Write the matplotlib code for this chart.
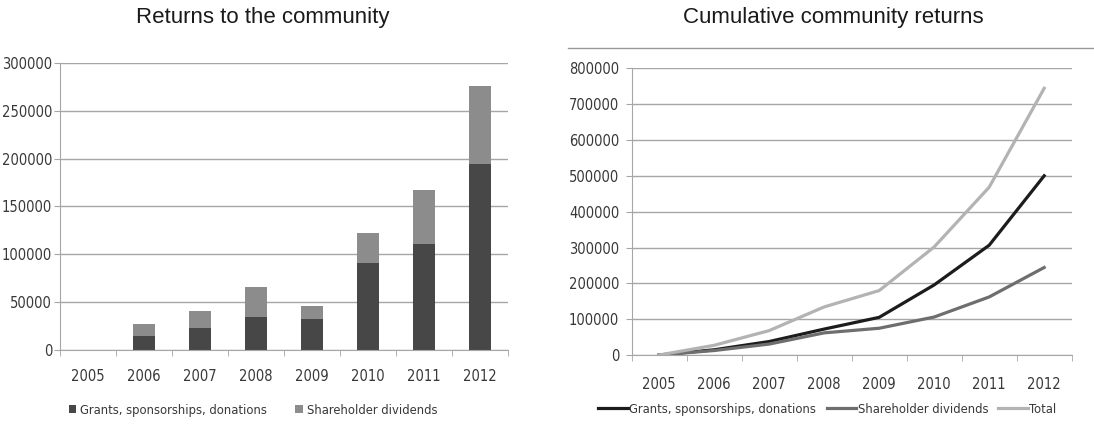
import numpy as np
import matplotlib.pyplot as plt
from matplotlib.lines import Line2D

# Annual values
years = ["2005", "2006", "2007", "2008", "2009", "2010", "2011", "2012"]
grants = [0, 14600, 23000, 34800, 32700, 90500, 110700, 193800]
dividends = [0, 12500, 18000, 31300, 12900, 31300, 56000, 82200]

# Cumulative values
cum_grants = [0, 14600, 37600, 72400, 105100, 195600, 306300, 500100]
cum_dividends = [0, 12500, 30500, 61800, 74700, 106000, 162000, 244200]
cum_total = [0, 27100, 68100, 134200, 179800, 301600, 468300, 744300]

bar_ticks = [0, 50000, 100000, 150000, 200000, 250000, 300000]
line_ticks = [0, 100000, 200000, 300000, 400000, 500000, 600000, 700000, 800000]

tick_font = {"family": "DejaVu Sans", "stretch": "condensed", "size": 10.5}
legend_font = {"family": "DejaVu Sans", "stretch": "condensed", "size": 9.3}
title_font = ["Liberation Sans", "DejaVu Sans"]
grid_col = "#a6a6a6"
text_col = "#383838"

fig = plt.figure(figsize=(10.94, 4.30), dpi=100)


def style_axis(ax, ticks, xpad, ypad):
    n = len(years)
    x = np.arange(n)
    ax.set_xlim(-0.5, n - 0.5)
    ax.set_ylim(ticks[0], ticks[-1])
    ax.set_yticks(ticks)
    ax.set_yticklabels([str(t) for t in ticks], fontdict=tick_font, color=text_col)
    ax.set_xticks(x)
    ax.set_xticklabels(years, fontdict=tick_font, color=text_col)
    ax.set_xticks(np.arange(-0.5, n, 1), minor=True)
    ax.tick_params(axis="x", which="major", length=0, pad=xpad)
    ax.tick_params(axis="x", which="minor", length=4, color=grid_col)
    ax.tick_params(axis="y", length=4, color=grid_col, pad=ypad)
    ax.yaxis.grid(True, color=grid_col, linewidth=1.0)
    ax.set_axisbelow(True)
    for s in ["top", "right"]:
        ax.spines[s].set_visible(False)
    for s in ["left", "bottom"]:
        ax.spines[s].set_color(grid_col)
    return x


# Left: stacked bars
ax1 = fig.add_axes([0.0548, 0.186, 0.4095, 0.668])
x = style_axis(ax1, bar_ticks, 14, 1.5)
ax1.bar(x, grants, width=0.4, color="#474747", label="Grants, sponsorships, donations")
ax1.bar(x, dividends, width=0.4, bottom=grants, color="#8c8c8c", label="Shareholder dividends")
fig.text(263 / 1094, 1 - 17 / 430, "Returns to the community", ha="center", va="center",
         fontfamily=title_font, fontsize=16, color="#1a1a1a")
ax1.legend(loc="center", bbox_to_anchor=(0.431, -0.21), ncol=2, frameon=False,
           prop=legend_font, handlelength=0.6, handleheight=0.6,
           handletextpad=0.3, columnspacing=2.2, labelcolor=text_col)

# Right: cumulative lines
ax2 = fig.add_axes([0.5774, 0.1744, 0.4022, 0.6667])
x = style_axis(ax2, line_ticks, 16, 5)
ax2.plot(x, cum_grants, color="#1c1c1c", linewidth=2.3, label="Grants, sponsorships, donations")
ax2.plot(x, cum_dividends, color="#6e6e6e", linewidth=2.3, label="Shareholder dividends")
ax2.plot(x, cum_total, color="#b3b3b3", linewidth=2.3, label="Total")
fig.text(833 / 1094, 1 - 17 / 430, "Cumulative community returns", ha="center", va="center",
         fontfamily=title_font, fontsize=16, color="#1a1a1a")
ax2.legend(loc="center", bbox_to_anchor=(0.445, -0.19), ncol=3, frameon=False,
           prop=legend_font, handlelength=2.3,
           handletextpad=0.1, columnspacing=0.8, labelcolor=text_col)

# chart area border line above the right chart
fig.add_artist(Line2D([568 / 1094, 1.0], [1 - 48 / 430, 1 - 48 / 430],
                      transform=fig.transFigure, color="#9a9a9a", linewidth=1.0))

fig.savefig("out.png", dpi=100)
